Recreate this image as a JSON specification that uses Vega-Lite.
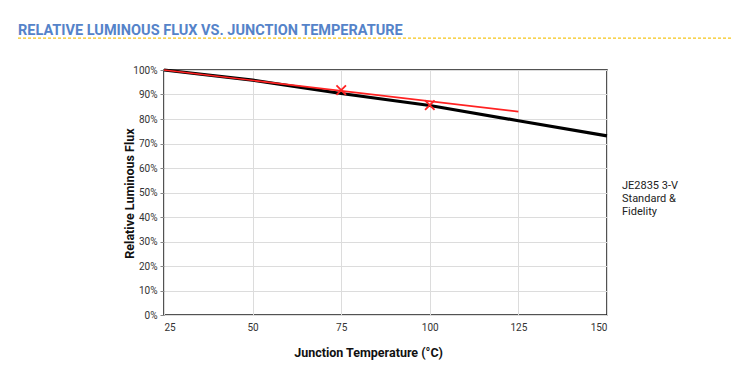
{
  "$schema": "https://vega.github.io/schema/vega-lite/v6.json",
  "width": 443,
  "height": 245,
  "autosize": {"type": "none"},
  "padding": {"left": 164, "top": 70, "right": 124, "bottom": 68},
  "background": "white",
  "title": {
    "text": "RELATIVE LUMINOUS FLUX VS. JUNCTION TEMPERATURE",
    "anchor": "start",
    "frame": "group",
    "dx": -146,
    "offset": -12,
    "baseline": "alphabetic",
    "font": "Roboto",
    "fontSize": 14.5,
    "fontWeight": "bold",
    "color": "#5583c9"
  },
  "config": {
    "view": {"stroke": "#1a1a1a", "strokeWidth": 1.5},
    "font": "Roboto"
  },
  "datasets": {
    "curve": [
      {"temp": 25, "flux": 1.0, "series": "JE2835 3-V Standard & Fidelity"},
      {"temp": 50, "flux": 0.959, "series": "JE2835 3-V Standard & Fidelity"},
      {"temp": 75, "flux": 0.904, "series": "JE2835 3-V Standard & Fidelity"},
      {"temp": 100, "flux": 0.855, "series": "JE2835 3-V Standard & Fidelity"},
      {"temp": 125, "flux": 0.793, "series": "JE2835 3-V Standard & Fidelity"},
      {"temp": 150, "flux": 0.731, "series": "JE2835 3-V Standard & Fidelity"}
    ],
    "trend": [
      {"temp": 25, "flux": 1.0},
      {"temp": 125, "flux": 0.83}
    ],
    "measured": [
      {"temp": 75, "flux": 0.918},
      {"temp": 100, "flux": 0.857}
    ]
  },
  "layer": [
    {
      "data": {"name": "curve"},
      "mark": {"type": "line", "strokeWidth": 3.2},
      "encoding": {
        "x": {
          "field": "temp", "type": "quantitative",
          "scale": {"domain": [25, 150], "nice": false, "zero": false},
          "axis": {
            "values": [25, 50, 75, 100, 125, 150],
            "title": "Junction Temperature (°C)",
            "titleFont": "Roboto", "titleFontSize": 12.5, "titleFontWeight": "bold", "titleColor": "#111",
            "titleX": 204, "titlePadding": 14,
            "labelFont": "Roboto", "labelFontSize": 10, "labelColor": "#333",
            "labelPadding": 7, "ticks": false, "domain": false, "labelOverlap": false,
            "grid": true, "gridColor": "#dcdcdc", "gridWidth": 1
          }
        },
        "y": {
          "field": "flux", "type": "quantitative",
          "scale": {"domain": [0, 1], "nice": false},
          "axis": {
            "tickCount": 10,
            "format": ".0%",
            "title": "Relative Luminous Flux",
            "titleFont": "Roboto", "titleFontSize": 12.5, "titleFontWeight": "bold", "titleColor": "#111",
            "titleX": -28, "titleY": 123, "titleAlign": "center", "titleBaseline": "bottom", "titleAngle": 270,
            "labelFont": "Roboto", "labelFontSize": 10, "labelColor": "#333",
            "labelPadding": 3, "ticks": true, "tickSize": 4, "tickColor": "#888",
            "domain": false, "labelOverlap": false,
            "grid": true, "gridColor": "#dcdcdc", "gridWidth": 1
          }
        },
        "color": {
          "field": "series", "type": "nominal",
          "scale": {"range": ["#000000"]},
          "legend": {
            "title": null,
            "orient": "none",
            "legendX": 447,
            "legendY": 110,
            "symbolSize": 0,
            "symbolOpacity": 0,
            "symbolStrokeWidth": 0,
            "labelOffset": 0,
            "padding": 0,
            "labelFont": "Roboto",
            "labelFontSize": 11,
            "labelColor": "#222",
            "labelLimit": 200,
            "labelExpr": "['JE2835 3-V', 'Standard  &', 'Fidelity']"
          }
        }
      }
    },
    {
      "data": {"name": "trend"},
      "mark": {"type": "line", "color": "#f22", "strokeWidth": 1.6},
      "encoding": {
        "x": {"field": "temp", "type": "quantitative"},
        "y": {"field": "flux", "type": "quantitative"}
      }
    },
    {
      "data": {"name": "measured"},
      "mark": {"type": "point", "shape": "M-1,-1L1,1M-1,1L1,-1", "color": "#f22", "filled": false, "size": 90, "strokeWidth": 1.8, "opacity": 1},
      "encoding": {
        "x": {"field": "temp", "type": "quantitative"},
        "y": {"field": "flux", "type": "quantitative"}
      }
    },
    {
      "data": {"values": [{"label": "divider"}]},
      "mark": {"type": "rule", "stroke": "#f5c518", "strokeWidth": 1.3, "strokeDash": [3, 2], "clip": false},
      "encoding": {
        "y": {
          "datum": 1.13, "type": "quantitative",
          "axis": {
            "tickCount": 10,
            "format": ".0%",
            "title": "Relative Luminous Flux",
            "titleFont": "Roboto", "titleFontSize": 12.5, "titleFontWeight": "bold", "titleColor": "#111",
            "titleX": -28, "titleY": 123, "titleAlign": "center", "titleBaseline": "bottom", "titleAngle": 270,
            "labelFont": "Roboto", "labelFontSize": 10, "labelColor": "#333",
            "labelPadding": 3, "ticks": true, "tickSize": 4, "tickColor": "#888",
            "domain": false, "labelOverlap": false,
            "grid": true, "gridColor": "#dcdcdc", "gridWidth": 1
          }
        },
        "x": {
          "datum": -16.2, "type": "quantitative",
          "axis": {
            "values": [25, 50, 75, 100, 125, 150],
            "title": "Junction Temperature (°C)",
            "titleFont": "Roboto", "titleFontSize": 12.5, "titleFontWeight": "bold", "titleColor": "#111",
            "titleX": 204, "titlePadding": 14,
            "labelFont": "Roboto", "labelFontSize": 10, "labelColor": "#333",
            "labelPadding": 7, "ticks": false, "domain": false, "labelOverlap": false,
            "grid": true, "gridColor": "#dcdcdc", "gridWidth": 1
          }
        },
        "x2": {"datum": 185}
      }
    }
  ]
}
